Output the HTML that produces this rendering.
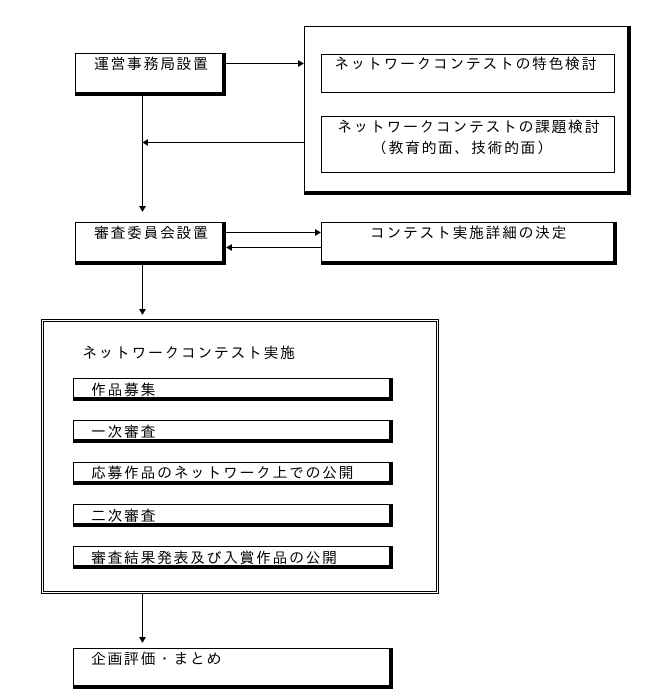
<!DOCTYPE html>
<html><head><meta charset="utf-8"><style>
html,body{margin:0;padding:0;background:#fff;}
svg{display:block;}
text{font-family:"Liberation Sans","IPAGothic","Noto Sans CJK JP",sans-serif;font-size:15px;letter-spacing:1.5px;fill:#000;}
</style></head><body>
<svg width="656" height="700" viewBox="0 0 656 700" xmlns="http://www.w3.org/2000/svg" shape-rendering="crispEdges">
<!-- Box 1 -->
<rect x="75" y="53" width="151" height="43" fill="#000"/>
<rect x="76" y="54" width="146" height="38" fill="#fff"/>
<text x="94" y="69">運営事務局設置</text>

<!-- Big top-right box -->
<rect x="304" y="26" width="327" height="169" fill="#000"/>
<rect x="305" y="27" width="322" height="164" fill="#fff"/>
<rect x="321.5" y="54.5" width="293" height="38" fill="none" stroke="#000" stroke-width="1"/>
<text x="334" y="69">ネットワークコンテストの特色検討</text>
<rect x="321.5" y="116.5" width="293" height="56" fill="none" stroke="#000" stroke-width="1"/>
<text x="337" y="132">ネットワークコンテストの課題検討</text>
<text x="372" y="153">（教育的面、技術的面）</text>

<!-- arrow box1 -> big box -->
<rect x="226" y="63" width="74" height="1" fill="#000"/>
<polygon points="304,63.5 298,60 298,67" fill="#000" shape-rendering="auto"/>
<!-- arrow big box -> vertical line -->
<rect x="147" y="142" width="157" height="1" fill="#000"/>
<polygon points="142.5,142.5 148,139 148,146" fill="#000" shape-rendering="auto"/>

<!-- vertical line box1 -> box2 -->
<rect x="142" y="96" width="1" height="110" fill="#000"/>
<polygon points="142.5,212 139,206 146,206" fill="#000" shape-rendering="auto"/>

<!-- Box 2 -->
<rect x="75" y="222" width="151" height="43" fill="#000"/>
<rect x="76" y="223" width="146" height="38" fill="#fff"/>
<text x="94" y="238">審査委員会設置</text>

<!-- Box 3 -->
<rect x="321" y="222" width="296" height="43" fill="#000"/>
<rect x="322" y="223" width="291" height="38" fill="#fff"/>
<text x="370" y="238">コンテスト実施詳細の決定</text>

<!-- arrows between box2 and box3 -->
<rect x="226" y="232" width="90" height="1" fill="#000"/>
<polygon points="321,232.5 315,229 315,236" fill="#000" shape-rendering="auto"/>
<rect x="231" y="247" width="90" height="1" fill="#000"/>
<polygon points="226,247.5 232,244 232,251" fill="#000" shape-rendering="auto"/>

<!-- vertical line box2 -> big box -->
<rect x="142" y="265" width="1" height="45" fill="#000"/>
<polygon points="142.5,315 139,309 146,309" fill="#000" shape-rendering="auto"/>

<!-- Double-border box -->
<rect x="41.5" y="319.5" width="397" height="274" fill="none" stroke="#000" stroke-width="1"/>
<rect x="43.5" y="321.5" width="393" height="270" fill="none" stroke="#000" stroke-width="1"/>
<text x="82" y="358">ネットワークコンテスト実施</text>

<!-- sub boxes -->
<rect x="73" y="378" width="320" height="23" fill="#000"/>
<rect x="74" y="379" width="315" height="18" fill="#fff"/>
<text x="91" y="395">作品募集</text>

<rect x="73" y="420" width="320" height="23" fill="#000"/>
<rect x="74" y="421" width="315" height="18" fill="#fff"/>
<text x="91" y="437">一次審査</text>

<rect x="73" y="462" width="320" height="23" fill="#000"/>
<rect x="74" y="463" width="315" height="18" fill="#fff"/>
<text x="91" y="478">応募作品のネットワーク上での公開</text>

<rect x="73" y="504" width="320" height="23" fill="#000"/>
<rect x="74" y="505" width="315" height="18" fill="#fff"/>
<text x="91" y="521">二次審査</text>

<rect x="73" y="546" width="320" height="23" fill="#000"/>
<rect x="74" y="547" width="315" height="18" fill="#fff"/>
<text x="91" y="563">審査結果発表及び入賞作品の公開</text>

<!-- vertical line big box -> final -->
<rect x="142" y="594" width="1" height="44" fill="#000"/>
<polygon points="142.5,643 139,637 146,637" fill="#000" shape-rendering="auto"/>

<!-- final box -->
<rect x="73" y="648" width="320" height="41" fill="#000"/>
<rect x="74" y="649" width="315" height="36" fill="#fff"/>
<text x="91" y="664">企画評価・まとめ</text>
</svg>
</body></html>
